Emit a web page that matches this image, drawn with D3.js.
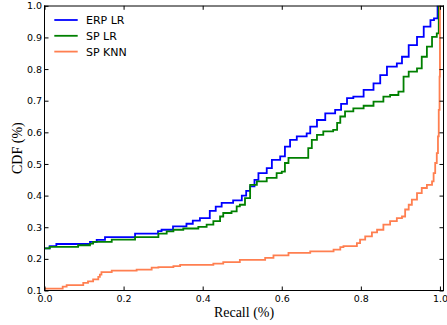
<!DOCTYPE html>
<html>
<head>
<meta charset="utf-8">
<script src="https://cdn.jsdelivr.net/npm/d3@7"></script>
<style>
  html, body { margin: 0; padding: 0; background: #fff; }
  svg { display: block; }
</style>
</head>
<body>
<svg id="chart" width="447" height="325"></svg>
<script>
// ---- data ----
const seriesNames = ["ERP LR", "SP LR", "SP KNN"];
const seriesColors = ["#0000ff", "#008000", "#ff7f50"];

const erpRecall = [0, 0.013, 0.030, 0.115, 0.132, 0.153, 0.229, 0.287, 0.296, 0.325, 0.359, 0.375, 0.393, 0.418, 0.433, 0.448, 0.477, 0.499, 0.510, 0.520, 0.531, 0.541, 0.562, 0.575, 0.596, 0.608, 0.621, 0.638, 0.663, 0.672, 0.689, 0.710, 0.735, 0.750, 0.765, 0.781, 0.807, 0.832, 0.849, 0.866, 0.891, 0.904, 0.921, 0.942, 0.959, 0.976, 0.985, 0.994];
const erpCdf    = [0.233, 0.240, 0.247, 0.254, 0.260, 0.269, 0.280, 0.288, 0.292, 0.303, 0.311, 0.321, 0.329, 0.352, 0.365, 0.377, 0.385, 0.400, 0.415, 0.429, 0.450, 0.471, 0.487, 0.513, 0.524, 0.555, 0.576, 0.587, 0.597, 0.618, 0.639, 0.660, 0.671, 0.690, 0.708, 0.713, 0.734, 0.755, 0.781, 0.808, 0.818, 0.839, 0.876, 0.902, 0.934, 0.955, 0.960, 1.000];

const spLrRecall = [0, 0.013, 0.085, 0.115, 0.123, 0.170, 0.229, 0.288, 0.309, 0.326, 0.351, 0.389, 0.410, 0.427, 0.444, 0.452, 0.473, 0.486, 0.494, 0.507, 0.520, 0.537, 0.562, 0.587, 0.600, 0.608, 0.617, 0.667, 0.676, 0.689, 0.705, 0.730, 0.740, 0.748, 0.760, 0.781, 0.807, 0.832, 0.857, 0.874, 0.895, 0.908, 0.921, 0.942, 0.954, 0.967, 0.980, 0.992, 0.997];
const spLrCdf    = [0.233, 0.238, 0.243, 0.248, 0.254, 0.261, 0.269, 0.280, 0.287, 0.292, 0.296, 0.301, 0.308, 0.319, 0.334, 0.345, 0.350, 0.366, 0.371, 0.392, 0.434, 0.445, 0.456, 0.471, 0.476, 0.503, 0.519, 0.550, 0.576, 0.592, 0.603, 0.608, 0.630, 0.650, 0.666, 0.676, 0.684, 0.697, 0.713, 0.718, 0.729, 0.776, 0.792, 0.802, 0.839, 0.871, 0.902, 0.913, 1.000];

const spKnnRecall = [0, 0.046, 0.056, 0.098, 0.110, 0.123, 0.136, 0.140, 0.144, 0.170, 0.233, 0.271, 0.288, 0.326, 0.343, 0.427, 0.452, 0.494, 0.558, 0.579, 0.617, 0.672, 0.731, 0.748, 0.756, 0.790, 0.798, 0.811, 0.828, 0.841, 0.857, 0.874, 0.891, 0.904, 0.912, 0.921, 0.929, 0.942, 0.954, 0.967, 0.980, 0.984, 0.988, 0.992, 0.995, 0.997, 0.999, 1.000];
const spKnnCdf    = [0.106, 0.112, 0.117, 0.124, 0.129, 0.135, 0.143, 0.150, 0.158, 0.163, 0.166, 0.172, 0.174, 0.177, 0.181, 0.185, 0.190, 0.197, 0.203, 0.211, 0.219, 0.224, 0.229, 0.237, 0.240, 0.250, 0.261, 0.271, 0.284, 0.292, 0.308, 0.319, 0.329, 0.334, 0.356, 0.371, 0.387, 0.408, 0.424, 0.434, 0.445, 0.471, 0.503, 0.534, 0.587, 0.671, 0.776, 1.000];

const xTicks = [0.0, 0.2, 0.4, 0.6, 0.8, 1.0];
const yTicks = [0.1, 0.2, 0.3, 0.4, 0.5, 0.6, 0.7, 0.8, 0.9, 1.0];
const xLabel = "Recall (%)";
const yLabel = "CDF (%)";

// ---- drawing ----
const svg = d3.select("#chart");
const pLeft = 44.5, pRight = 443.5, pTop = 5.8, pBottom = 290.5;

const x = d3.scaleLinear().domain([0, 1.009]).range([pLeft, pRight]);
const y = d3.scaleLinear().domain([0.1, 1.0]).range([pBottom, pTop]);

const series = [
  { name: seriesNames[0], color: seriesColors[0], xs: erpRecall, ys: erpCdf },
  { name: seriesNames[1], color: seriesColors[1], xs: spLrRecall, ys: spLrCdf },
  { name: seriesNames[2], color: seriesColors[2], xs: spKnnRecall, ys: spKnnCdf }
];

const line = d3.line()
  .x(d => x(d[0]))
  .y(d => y(d[1]))
  .curve(d3.curveStepAfter);

svg.append("g").selectAll("path")
  .data(series)
  .join("path")
  .attr("d", s => line(s.xs.map((v, i) => [v, s.ys[i]])))
  .attr("fill", "none")
  .attr("stroke", s => s.color)
  .attr("stroke-width", 1.8)
  .attr("stroke-linejoin", "miter");

const tickFont = "DejaVu Sans, sans-serif";

function styleAxis(g) {
  g.select(".domain").remove();
  g.selectAll(".tick line").attr("stroke", "#000").attr("stroke-width", 1);
  g.selectAll(".tick text").attr("fill", "#000")
    .style("font-family", tickFont).style("font-size", "9.5px");
}

svg.append("g")
  .attr("transform", `translate(0,${pBottom})`)
  .call(d3.axisBottom(x).tickValues(xTicks).tickFormat(d3.format(".1f")).tickSize(-4).tickPadding(4.7))
  .call(styleAxis);

svg.append("g")
  .attr("transform", `translate(${pLeft},0)`)
  .call(d3.axisLeft(y).tickValues(yTicks).tickFormat(d3.format(".1f")).tickSize(-4).tickPadding(2.5))
  .call(styleAxis);

svg.append("g")
  .attr("transform", `translate(0,${pTop})`)
  .call(d3.axisTop(x).tickValues(xTicks).tickFormat("").tickSize(-4))
  .call(styleAxis);

svg.append("g")
  .attr("transform", `translate(${pRight},0)`)
  .call(d3.axisRight(y).tickValues(yTicks).tickFormat("").tickSize(-4))
  .call(styleAxis);

// frame
const frame = svg.append("g").attr("stroke", "#000").attr("stroke-width", 1);
frame.append("line").attr("x1", pLeft).attr("x2", pLeft).attr("y1", 5.5).attr("y2", pBottom + 0.5);
frame.append("line").attr("x1", pLeft - 0.5).attr("x2", pRight + 0.5).attr("y1", pBottom).attr("y2", pBottom);
frame.append("line").attr("x1", pRight).attr("x2", pRight).attr("y1", 5.5).attr("y2", pBottom + 0.5);
frame.append("line").attr("x1", pLeft - 0.5).attr("x2", pRight + 0.5).attr("y1", 6).attr("y2", 6);

// axis labels
svg.append("text")
  .attr("x", (pLeft + pRight) / 2)
  .attr("y", 317)
  .attr("text-anchor", "middle")
  .style("font-family", "Liberation Serif, Times New Roman, serif")
  .style("font-size", "14px")
  .text(xLabel);

svg.append("text")
  .attr("transform", `translate(21.5,${(pTop + pBottom) / 2}) rotate(-90)`)
  .attr("text-anchor", "middle")
  .style("font-family", "Liberation Serif, Times New Roman, serif")
  .style("font-size", "14px")
  .text(yLabel);

// legend
const legend = svg.append("g");
const lg = legend.selectAll("g")
  .data(series)
  .join("g")
  .attr("transform", (d, i) => `translate(0,${20 + i * 15.8})`);
lg.append("line")
  .attr("x1", 54.3).attr("x2", 77.7)
  .attr("y1", 0).attr("y2", 0)
  .attr("stroke", d => d.color)
  .attr("stroke-width", 1.8);
lg.append("text")
  .attr("x", 86)
  .attr("y", 0)
  .attr("dy", "0.36em")
  .style("font-family", tickFont)
  .style("font-size", "11px")
  .text(d => d.name);
</script>
</body>
</html>
